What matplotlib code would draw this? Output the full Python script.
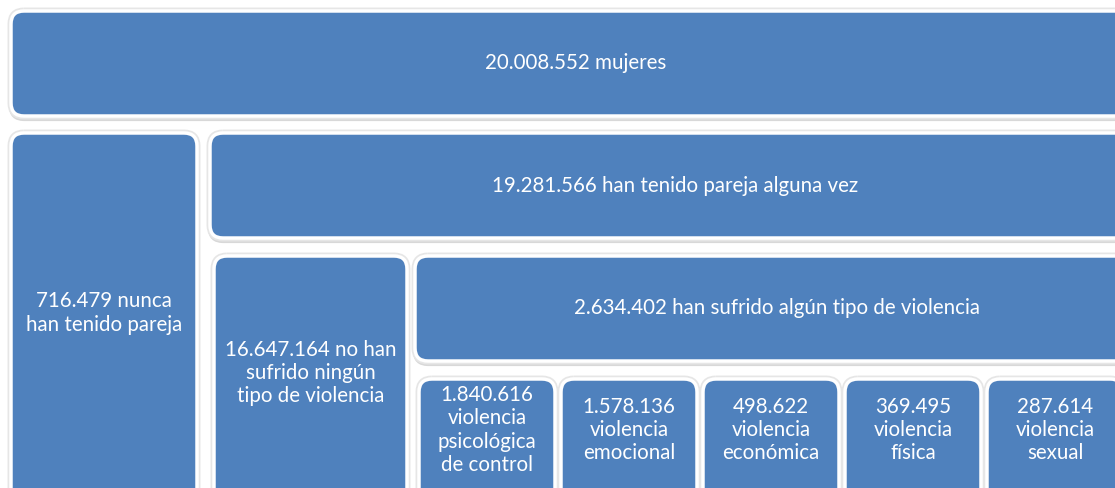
import matplotlib
matplotlib.use("Agg")
import matplotlib.pyplot as plt
from matplotlib.patches import FancyBboxPatch

# datos del diagrama
total = 20008552
nunca_pareja = 716479
alguna_pareja = 19281566
sin_violencia = 16647164
con_violencia = 2634402
tipos = ["psicológica\nde control", "emocional", "económica", "física", "sexual"]
tipos_valores = [1840616, 1578136, 498622, 369495, 287614]


def fmt(n):
    return f"{n:,}".replace(",", ".")


plt.rcParams["font.family"] = ["Lato", "DejaVu Sans"]

fig = plt.figure(figsize=(11.15, 4.88), dpi=100)
ax = fig.add_axes([0, 0, 1, 1])
ax.set_xlim(0, 1115)
ax.set_ylim(488, 0)
ax.axis("off")

azul = "#4f81bd"
FS = 14.8


def caja(x0, y0, x1, y1, texto, yt=None):
    st = "round,pad=0,rounding_size=13"
    # sombra
    ax.add_patch(FancyBboxPatch((x0, y0 + 3), x1 - x0, y1 - y0, boxstyle=st,
                                fc="#a8a8a8", ec="#c8c8c8", lw=3, alpha=0.7, zorder=1))
    # borde gris claro exterior
    ax.add_patch(FancyBboxPatch((x0, y0), x1 - x0, y1 - y0, boxstyle=st,
                                fc="none", ec="#e6e6e6", lw=5, zorder=2))
    ax.add_patch(FancyBboxPatch((x0, y0), x1 - x0, y1 - y0, boxstyle=st,
                                fc=azul, ec="white", lw=2.5, zorder=3))
    if yt is None:
        yt = (y0 + y1) / 2
    ax.text((x0 + x1) / 2, yt, texto, color="white", fontsize=FS,
            ha="center", va="center", linespacing=1.2, zorder=4)


caja(11, 11, 1140, 116, f"{fmt(total)} mujeres", yt=63)
caja(11, 133, 197, 520, f"{fmt(nunca_pareja)} nunca\nhan tenido pareja", yt=313)
caja(210, 133, 1140, 238, f"{fmt(alguna_pareja)} han tenido pareja alguna vez", yt=186)
caja(214, 256, 407, 520, f"{fmt(sin_violencia)} no han\nsufrido ningún\ntipo de violencia", yt=373)
caja(415, 256, 1140, 361, f"{fmt(con_violencia)} han sufrido algún tipo de violencia", yt=308)

for i, (t, v) in enumerate(zip(tipos, tipos_valores)):
    x0 = 419 + i * 142
    caja(x0, 379, x0 + 136, 510, f"{fmt(v)}\nviolencia\n{t}", yt=430)

fig.savefig("out.png", dpi=100)
